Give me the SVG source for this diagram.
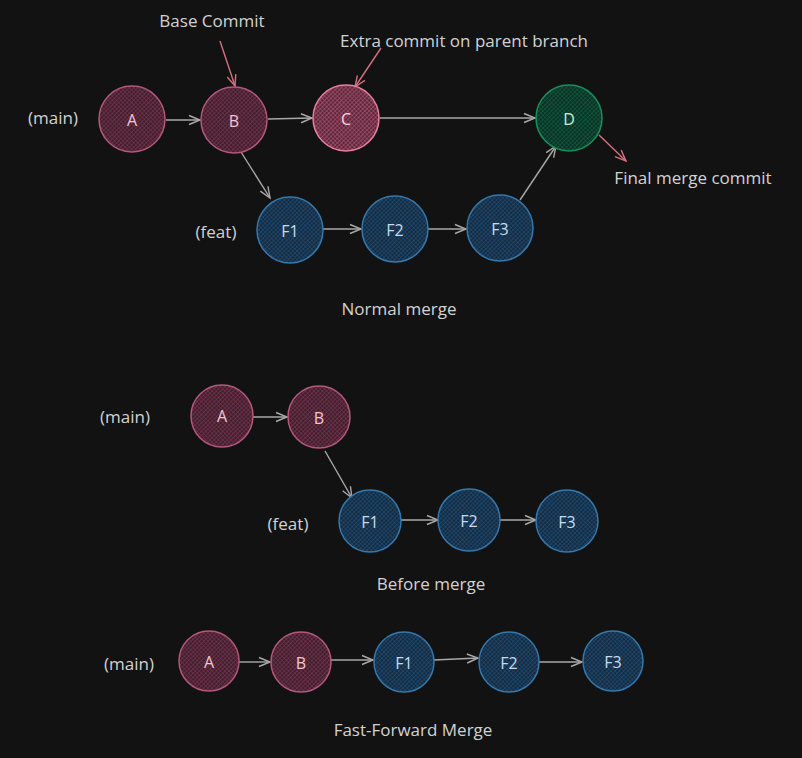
<svg xmlns="http://www.w3.org/2000/svg" width="802" height="758" viewBox="0 0 802 758">
<style>
text{font-family:"Open Sans","Noto Sans","DejaVu Sans",sans-serif;}
.lbl{fill:#d2d2d2;font-size:17px;}
.nt{font-size:16px;text-anchor:middle;dominant-baseline:central;}
.red circle{fill:url(#hRed);stroke:#b3587a;stroke-width:1.5;}
.red text{fill:#f2c6d4;}
.pink circle{fill:url(#hPink);stroke:#ea7e9e;stroke-width:1.5;}
.pink text{fill:#fbd6e2;}
.blue circle{fill:url(#hBlue);stroke:#3478ad;stroke-width:1.5;}
.blue text{fill:#c4dcf2;}
.green circle{fill:url(#hGreen);stroke:#17915f;stroke-width:1.5;}
.green text{fill:#c6eedc;}
.c{fill:none;stroke:#a9a9a9;stroke-width:1.4;marker-end:url(#ag);}
.p{fill:none;stroke:#d4707f;stroke-width:1.4;marker-end:url(#ap);}
</style>
<defs>
<pattern id="hRed" width="3" height="3" patternUnits="userSpaceOnUse" patternTransform="rotate(45)">
<rect width="3" height="3" fill="#3f1d2b"/><path d="M0,0H3M0,0V3" stroke="#7e3a56" stroke-width="1.2"/></pattern>
<pattern id="hPink" width="3" height="3" patternUnits="userSpaceOnUse" patternTransform="rotate(45)">
<rect width="3" height="3" fill="#5a2638"/><path d="M0,0H3M0,0V3" stroke="#b45a7a" stroke-width="1.2"/></pattern>
<pattern id="hBlue" width="3" height="3" patternUnits="userSpaceOnUse" patternTransform="rotate(45)">
<rect width="3" height="3" fill="#132a40"/><path d="M0,0H3M0,0V3" stroke="#245279" stroke-width="1.2"/></pattern>
<pattern id="hGreen" width="3" height="3" patternUnits="userSpaceOnUse" patternTransform="rotate(45)">
<rect width="3" height="3" fill="#0b2f22"/><path d="M0,0H3M0,0V3" stroke="#11654a" stroke-width="1.2"/></pattern>
<marker id="ag" markerWidth="14" markerHeight="12" refX="12" refY="6" orient="auto" markerUnits="userSpaceOnUse">
<path d="M1,1.5L12,6L1,10.5" fill="none" stroke="#a9a9a9" stroke-width="1.4"/></marker>
<marker id="ap" markerWidth="14" markerHeight="12" refX="12" refY="6" orient="auto" markerUnits="userSpaceOnUse">
<path d="M1,1.5L12,6L1,10.5" fill="none" stroke="#d4707f" stroke-width="1.4"/></marker>
</defs>
<rect width="802" height="758" fill="#121212"/>

<g id="labels">
<text class="lbl" x="53" y="117" text-anchor="middle" dominant-baseline="central">(main)</text>
<text class="lbl" x="216" y="231" text-anchor="middle" dominant-baseline="central">(feat)</text>
<text class="lbl" x="212" y="20" text-anchor="middle" dominant-baseline="central">Base Commit</text>
<text class="lbl" x="464" y="40" text-anchor="middle" dominant-baseline="central">Extra commit on parent branch</text>
<text class="lbl" x="693" y="177" text-anchor="middle" dominant-baseline="central">Final merge commit</text>
<text class="lbl" x="399" y="308" text-anchor="middle" dominant-baseline="central">Normal merge</text>
<text class="lbl" x="125" y="416" text-anchor="middle" dominant-baseline="central">(main)</text>
<text class="lbl" x="288" y="523" text-anchor="middle" dominant-baseline="central">(feat)</text>
<text class="lbl" x="431" y="583" text-anchor="middle" dominant-baseline="central">Before merge</text>
<text class="lbl" x="129" y="663" text-anchor="middle" dominant-baseline="central">(main)</text>
<text class="lbl" x="413" y="729" text-anchor="middle" dominant-baseline="central">Fast-Forward Merge</text>
</g>

<g id="connectors">
<path class="c" d="M166,120L200,120"/>
<path class="c" d="M268,119L312,118"/>
<path class="c" d="M380,118L535,118"/>
<path class="c" d="M241,152L270,198"/>
<path class="c" d="M323,229L361,229"/>
<path class="c" d="M428,229L466,229"/>
<path class="c" d="M520,200L556,146"/>
<path class="p" d="M220,41L235,86"/>
<path class="p" d="M381,48L355,87"/>
<path class="p" d="M599,135L626,161"/>
<path class="c" d="M253,417L287,417"/>
<path class="c" d="M325,451L352,498"/>
<path class="c" d="M401,520L438,520"/>
<path class="c" d="M500,520L536,520"/>
<path class="c" d="M239,662L270,662"/>
<path class="c" d="M331,660L373,660"/>
<path class="c" d="M434,660L478,658"/>
<path class="c" d="M539,662L582,662"/>
</g>

<g id="n1-A" class="red"><circle cx="132" cy="119" r="33"/><text class="nt" x="132" y="120">A</text></g>
<g id="n1-B" class="red"><circle cx="234" cy="120" r="33"/><text class="nt" x="234" y="121">B</text></g>
<g id="n1-C" class="pink"><circle cx="346" cy="118" r="33"/><text class="nt" x="346" y="119">C</text></g>
<g id="n1-D" class="green"><circle cx="569" cy="118" r="33"/><text class="nt" x="569" y="119">D</text></g>
<g id="n1-F1" class="blue"><circle cx="290" cy="230" r="33"/><text class="nt" x="290" y="231">F1</text></g>
<g id="n1-F2" class="blue"><circle cx="395" cy="229" r="33"/><text class="nt" x="395" y="230">F2</text></g>
<g id="n1-F3" class="blue"><circle cx="500" cy="228" r="33"/><text class="nt" x="500" y="229">F3</text></g>

<g id="n2-A" class="red"><circle cx="222" cy="416" r="31"/><text class="nt" x="222" y="416">A</text></g>
<g id="n2-B" class="red"><circle cx="319" cy="417" r="31"/><text class="nt" x="319" y="418">B</text></g>
<g id="n2-F1" class="blue"><circle cx="370" cy="521" r="31"/><text class="nt" x="370" y="522">F1</text></g>
<g id="n2-F2" class="blue"><circle cx="469" cy="520" r="31"/><text class="nt" x="469" y="521">F2</text></g>
<g id="n2-F3" class="blue"><circle cx="567" cy="521" r="31"/><text class="nt" x="567" y="522">F3</text></g>

<g id="n3-A" class="red"><circle cx="209" cy="661" r="30"/><text class="nt" x="209" y="662">A</text></g>
<g id="n3-B" class="red"><circle cx="301" cy="662" r="30"/><text class="nt" x="301" y="663">B</text></g>
<g id="n3-F1" class="blue"><circle cx="404" cy="662" r="30"/><text class="nt" x="404" y="663">F1</text></g>
<g id="n3-F2" class="blue"><circle cx="509" cy="662" r="30"/><text class="nt" x="509" y="663">F2</text></g>
<g id="n3-F3" class="blue"><circle cx="613" cy="661" r="30"/><text class="nt" x="613" y="662">F3</text></g>
</svg>
